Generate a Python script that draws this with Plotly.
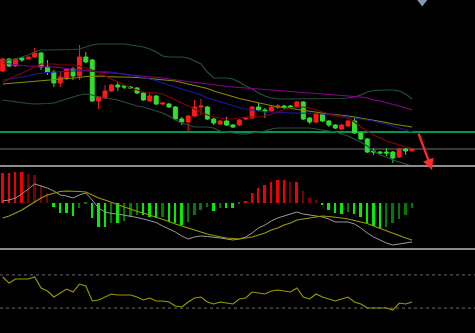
import plotly.graph_objects as go

# ---------------- data ----------------
n = 65
idx = list(range(n))

open_ = [12.9,14.1,13.4,14.2,14.1,14.3,14.7,13.3,12.8,11.7,12.2,13.1,12.4,14.3,14.0,9.9,10.2,10.9,11.5,11.4,
         11.3,11.2,10.7,9.9,10.4,9.6,9.6,9.3,8.1,7.8,8.4,9.3,9.3,8.1,7.6,7.9,7.5,7.5,8.1,8.2,
         9.3,9.0,8.9,9.3,9.4,9.4,9.3,9.8,8.2,7.8,8.6,7.9,7.5,7.1,7.4,7.9,6.7,6.1,4.9,4.8,
         4.8,4.8,4.3,5.1,4.9]
close = [14.1,13.4,14.1,14.0,14.3,14.7,13.3,12.8,11.7,12.3,13.1,12.4,14.3,13.8,9.9,10.3,10.9,11.5,11.3,11.3,
         11.2,10.7,10.0,10.4,9.6,9.7,9.3,8.1,7.8,8.4,9.3,9.4,8.1,7.7,7.9,7.5,7.3,8.0,8.2,9.3,
         9.0,8.9,9.3,9.4,9.3,9.3,9.8,8.1,7.8,8.6,7.9,7.5,7.2,7.5,7.9,6.7,6.1,4.8,4.8,4.7,
         4.7,4.2,5.1,4.9,5.1]
high = [14.2,14.2,14.2,14.3,14.3,15.2,14.8,14.0,13.0,12.8,13.2,13.3,15.5,14.8,14.1,10.4,11.5,11.6,11.8,11.5,
        11.4,11.3,10.8,10.8,10.5,9.8,9.7,9.4,8.3,8.5,10.0,10.1,9.4,8.2,8.0,8.3,7.6,8.1,8.3,9.4,
        9.7,9.2,9.4,9.6,9.5,9.5,9.9,9.9,8.3,8.7,8.7,8.0,7.6,7.6,8.0,8.3,6.8,6.2,5.2,4.9,
        5.2,4.9,5.2,5.2,5.1]
low = [12.8,13.3,13.3,13.8,14.1,14.2,13.0,12.5,11.3,11.3,12.0,12.0,12.0,13.7,9.8,9.1,10.1,10.8,10.9,11.1,
       11.1,10.6,9.9,9.8,9.5,9.5,9.2,8.0,7.5,6.8,8.3,8.5,8.0,7.5,7.5,7.4,7.2,7.4,8.0,8.1,
       8.9,8.2,8.8,9.1,9.1,9.2,9.2,8.0,7.6,7.7,7.8,7.3,7.1,7.0,7.3,6.6,6.0,4.7,4.5,4.6,
       4.4,3.7,4.2,4.5,4.9]

boll_upper = [13.9,14.0,14.1,14.3,14.5,14.8,15.0,15.0,15.0,15.0,15.0,15.05,15.1,15.3,15.5,15.6,15.6,15.6,15.6,15.6,
              15.5,15.4,15.3,15.1,14.8,14.4,14.3,14.3,14.3,14.2,13.9,13.6,12.8,12.2,12.2,12.2,12.1,11.8,11.4,11.1,
              10.7,10.4,10.2,10.1,10.1,10.1,10.1,10.1,10.1,10.1,10.1,10.1,10.1,10.15,10.2,10.3,10.5,10.8,10.95,11.0,
              11.0,11.0,10.9,10.6,10.1]
boll_lower = [10.0,9.9,9.8,9.7,9.65,9.6,9.6,9.65,9.7,9.9,10.1,10.3,10.5,10.6,10.5,10.3,10.2,10.1,10.0,9.8,
              9.6,9.4,9.3,9.1,8.9,8.7,8.4,8.0,7.7,7.5,7.3,7.3,7.3,7.2,6.9,6.8,6.7,6.6,6.6,6.7,
              6.8,6.9,7.1,7.2,7.2,7.2,7.2,7.2,7.2,7.1,7.0,6.9,6.8,6.6,6.4,6.1,5.8,5.4,4.9,4.5,
              4.3,4.0,3.8,3.6,3.4]
ma_red = [11.8,12.1,12.4,12.7,13.0,13.3,13.6,13.6,13.6,13.5,13.5,13.5,13.4,13.2,13.0,12.7,12.4,12.1,11.8,11.5,
          11.2,11.0,10.8,10.7,10.7,10.6,10.3,10.0,9.7,9.4,9.1,8.8,8.5,8.3,8.2,8.1,8.1,8.2,8.3,8.3,
          8.3,8.4,8.6,8.8,9.0,9.2,9.3,9.3,9.2,9.0,8.8,8.6,8.4,8.3,8.2,7.8,7.3,6.9,6.5,6.2,
          5.9,5.7,5.5,5.3,5.2]
ma_blue = [12.0,12.1,12.2,12.3,12.4,12.6,12.7,12.75,12.8,12.85,12.9,12.9,12.9,12.9,12.9,12.9,12.85,12.8,12.7,12.6,
           12.5,12.4,12.25,12.1,11.95,11.7,11.5,11.3,11.1,10.9,10.7,10.5,10.2,10.0,9.8,9.6,9.4,9.25,9.1,9.0,
           8.9,8.8,8.8,8.75,8.7,8.7,8.7,8.7,8.7,8.65,8.6,8.5,8.5,8.4,8.3,8.2,8.1,8.0,7.9,7.7,
           7.6,7.4,7.2,7.0,6.8]
ma_purple = [13.7,13.6,13.5,13.45,13.4,13.35,13.35,13.3,13.3,13.2,13.15,13.1,13.05,13.0,12.9,12.8,12.75,12.7,12.7,12.6,
             12.5,12.45,12.4,12.35,12.3,12.2,12.1,12.0,11.9,11.8,11.75,11.7,11.6,11.5,11.4,11.35,11.3,11.25,11.2,11.15,
             11.1,11.05,11.0,10.95,10.9,10.85,10.8,10.75,10.7,10.7,10.65,10.6,10.55,10.5,10.45,10.4,10.3,10.2,10.0,9.9,
             9.7,9.55,9.4,9.2,9.0]
ma_olive = [11.6,11.65,11.7,11.75,11.8,11.9,11.95,12.0,12.05,12.1,12.15,12.2,12.25,12.35,12.4,12.4,12.35,12.3,12.3,12.3,
            12.3,12.25,12.2,12.15,12.1,12.05,12.0,11.9,11.75,11.6,11.5,11.35,11.15,10.9,10.7,10.5,10.3,10.15,10.0,9.85,
            9.7,9.55,9.4,9.3,9.25,9.15,9.1,9.0,8.9,8.8,8.7,8.6,8.55,8.5,8.4,8.3,8.2,8.1,7.95,7.85,
            7.75,7.6,7.5,7.4,7.3]

support_level = 6.8
base_level = 5.1

macd_hist = [0.30,0.30,0.31,0.31,0.29,0.28,0.18,0.10,-0.04,-0.10,-0.10,-0.13,-0.05,-0.01,-0.15,-0.24,-0.24,-0.20,-0.20,-0.18,
             -0.14,-0.12,-0.12,-0.14,-0.15,-0.14,-0.19,-0.20,-0.22,-0.19,-0.12,-0.07,-0.04,-0.08,-0.05,-0.05,-0.05,-0.01,0.01,0.10,
             0.15,0.18,0.21,0.23,0.23,0.21,0.21,0.12,0.05,0.03,-0.02,-0.07,-0.10,-0.11,-0.09,-0.11,-0.14,-0.20,-0.23,-0.25,
             -0.24,-0.20,-0.16,-0.12,-0.05]
macd_dif = [0.02,0.03,0.05,0.09,0.14,0.19,0.17,0.15,0.12,0.08,0.07,0.05,0.08,0.10,0.03,-0.05,-0.09,-0.105,-0.11,-0.12,
            -0.13,-0.145,-0.16,-0.18,-0.195,-0.23,-0.26,-0.29,-0.33,-0.36,-0.34,-0.33,-0.335,-0.34,-0.35,-0.36,-0.37,-0.36,-0.34,-0.30,
            -0.25,-0.22,-0.18,-0.15,-0.13,-0.11,-0.09,-0.11,-0.12,-0.13,-0.14,-0.16,-0.19,-0.19,-0.19,-0.21,-0.25,-0.30,-0.34,-0.37,
            -0.40,-0.42,-0.41,-0.40,-0.39]
macd_dea = [-0.15,-0.13,-0.10,-0.07,-0.03,0.01,0.05,0.08,0.10,0.115,0.12,0.12,0.115,0.11,0.08,0.05,0.03,0.005,-0.02,-0.04,
            -0.06,-0.085,-0.10,-0.12,-0.145,-0.165,-0.185,-0.21,-0.23,-0.25,-0.275,-0.29,-0.31,-0.325,-0.34,-0.35,-0.355,-0.36,-0.35,-0.34,
            -0.32,-0.30,-0.27,-0.25,-0.22,-0.20,-0.17,-0.16,-0.145,-0.135,-0.13,-0.135,-0.14,-0.15,-0.16,-0.175,-0.19,-0.205,-0.23,-0.255,
            -0.28,-0.305,-0.33,-0.35,-0.37]

rsi = [67.5,60.2,65.1,65.1,65.1,67.5,54.2,50.6,43.4,48.2,53.0,49.4,59.0,56.6,38.6,39.8,43.4,47.0,45.8,45.8,
       45.8,43.4,39.8,42.2,38.6,38.6,37.3,32.5,31.3,37.3,42.2,43.4,37.3,34.9,37.3,36.1,34.9,41.0,42.2,49.4,
       48.2,47.0,50.6,51.8,50.6,49.4,54.2,43.4,41.0,47.0,43.4,41.0,38.6,41.0,43.4,37.3,34.9,30.1,30.1,30.1,
       30.1,27.7,36.1,34.9,37.3]
rsi_levels = [70, 30]

marker_x = 65.6
marker_y = 19.8

# ---------------- figure ----------------
fig = go.Figure()

fig.add_trace(go.Candlestick(
    x=idx, open=open_, high=high, low=low, close=close,
    increasing=dict(line=dict(color="#ff1a1a", width=1), fillcolor="#ff1a1a"),
    decreasing=dict(line=dict(color="#2fe02f", width=1), fillcolor="#2fe02f"),
    whiskerwidth=0, xaxis="x", yaxis="y", hoverinfo="skip"))

band_col = "#25503f"
for series, col in [(boll_upper, band_col), (boll_lower, band_col), (ma_purple, "#8a008a"),
                    (ma_olive, "#8a8a00"), (ma_blue, "#1818a8"), (ma_red, "#880000")]:
    fig.add_trace(go.Scatter(x=idx, y=series, mode="lines", line=dict(color=col, width=1.2),
                             xaxis="x", yaxis="y", hoverinfo="skip"))

fig.add_trace(go.Scatter(x=[marker_x], y=[marker_y], mode="markers",
                         marker=dict(symbol="triangle-down", size=9, color="#8797ad"),
                         cliponaxis=False, xaxis="x", yaxis="y", hoverinfo="skip"))

# MACD histogram colours: bright when magnitude grows, dark when it shrinks
hist_cols = []
for i, v in enumerate(macd_hist):
    prev = macd_hist[i - 1] if i > 0 else 0
    if v >= 0:
        hist_cols.append("#ee0000" if v >= prev else "#7a0000")
    else:
        hist_cols.append("#00ee00" if v <= prev else "#007a00")

fig.add_trace(go.Bar(x=idx, y=macd_hist, marker=dict(color=hist_cols, line=dict(width=0)),
                     width=0.3, xaxis="x2", yaxis="y2", hoverinfo="skip"))
fig.add_trace(go.Scatter(x=idx, y=macd_dif, mode="lines", line=dict(color="#9c9c9c", width=1),
                         xaxis="x2", yaxis="y2", hoverinfo="skip"))
fig.add_trace(go.Scatter(x=idx, y=macd_dea, mode="lines", line=dict(color="#9a9a00", width=1.2),
                         xaxis="x2", yaxis="y2", hoverinfo="skip"))

fig.add_trace(go.Scatter(x=idx, y=rsi, mode="lines", line=dict(color="#9a9a00", width=1.1),
                         xaxis="x3", yaxis="y3", hoverinfo="skip"))

xr = [-0.42, 73.85]
ax_common = dict(showgrid=False, zeroline=False, showticklabels=False, ticks="", showline=False)
fig.update_layout(
    width=475, height=333, margin=dict(l=0, r=0, t=0, b=0),
    paper_bgcolor="black", plot_bgcolor="black", showlegend=False,
    boxgap=0.12, bargap=0,
    xaxis=dict(range=xr, anchor="y", rangeslider=dict(visible=False), **ax_common),
    xaxis2=dict(range=xr, anchor="y2", matches="x", **ax_common),
    xaxis3=dict(range=xr, anchor="y3", matches="x", **ax_common),
    yaxis=dict(domain=[0.5015, 1.0], range=[3.4, 20.0], **ax_common),
    yaxis2=dict(domain=[0.2523, 0.4985], range=[-0.46, 0.36], **ax_common),
    yaxis3=dict(domain=[0.0, 0.2492], range=[0, 100], **ax_common),
)

# horizontal reference lines
fig.add_shape(type="line", xref="paper", yref="y", x0=0, x1=1, y0=support_level, y1=support_level,
              line=dict(color="#00c864", width=1.3), layer="below")
fig.add_shape(type="line", xref="paper", yref="y", x0=0, x1=1, y0=base_level, y1=base_level,
              line=dict(color="#383838", width=2), layer="below")
for lv in rsi_levels:
    fig.add_shape(type="line", xref="paper", yref="y3", x0=0, x1=1, y0=lv, y1=lv,
                  line=dict(color="#6a6a6a", width=1, dash="dot"), layer="below")
# panel separators
for py in [1 - 166 / 333, 1 - 249 / 333]:
    fig.add_shape(type="line", xref="paper", yref="paper", x0=0, x1=1, y0=py, y1=py,
                  line=dict(color="#8c8c8c", width=2))

# red forecast arrow
fig.add_annotation(xref="paper", yref="paper", x=432 / 475, y=1 - 170 / 333, ax=-14, ay=-38,
                   text="", showarrow=True, arrowhead=2, arrowsize=1, arrowwidth=2.2,
                   arrowcolor="#ff2a2a")

fig.write_html("out.html")
